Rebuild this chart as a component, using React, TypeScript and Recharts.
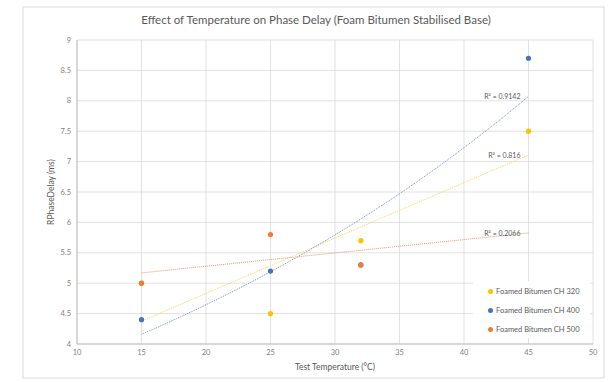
import React from 'react';
import {
  ComposedChart,
  Scatter,
  Line,
  XAxis,
  YAxis,
  CartesianGrid,
} from 'recharts';

// --- data ---
const temps = [15, 25, 32, 45];
const ch320 = [5.0, 4.5, 5.7, 7.5];
const ch400 = [4.4, 5.2, 5.3, 8.7];
const ch500: (number | null)[] = [5.0, 5.8, 5.3, null];

const seriesNames = ['Foamed Bitumen CH 320', 'Foamed Bitumen CH 400', 'Foamed Bitumen CH 500'];
const seriesColors = ['#FFC000', '#4472C4', '#ED7D31'];
const r2Labels = ['R² = 0.816', 'R² = 0.9142', 'R² = 0.2066'];

const xTicks = [10, 15, 20, 25, 30, 35, 40, 45, 50];
const yTicks = [4, 4.5, 5, 5.5, 6, 6.5, 7, 7.5, 8, 8.5, 9];
const trendRange = [15, 45];

const FONT = 'Lato, "Open Sans", sans-serif';
const TEXT = '#595959';
const TICK = '#7F7F7F';

type Pt = { x: number; y: number };

const toPoints = (ys: (number | null)[]): Pt[] =>
  temps
    .map((x, i) => ({ x, y: ys[i] }))
    .filter((p): p is Pt => typeof p.y === 'number');

// least squares, like Excel's trendline
const fitLinear = (pts: Pt[]) => {
  const n = pts.length;
  const mx = pts.reduce((s, p) => s + p.x, 0) / n;
  const my = pts.reduce((s, p) => s + p.y, 0) / n;
  let sxy = 0;
  let sxx = 0;
  pts.forEach((p) => {
    sxy += (p.x - mx) * (p.y - my);
    sxx += (p.x - mx) * (p.x - mx);
  });
  const b = sxy / sxx;
  return (x: number) => my + b * (x - mx);
};

const fitExp = (pts: Pt[]) => {
  const lin = fitLinear(pts.map((p) => ({ x: p.x, y: Math.log(p.y) })));
  return (x: number) => Math.exp(lin(x));
};

const trendLine = (f: (x: number) => number): Pt[] => {
  const out: Pt[] = [];
  for (let x = trendRange[0]; x <= trendRange[1]; x += 1) out.push({ x, y: f(x) });
  return out;
};

const pts320 = toPoints(ch320);
const pts400 = toPoints(ch400);
const pts500 = toPoints(ch500);

const trend320 = trendLine(fitLinear(pts320));
const trend400 = trendLine(fitExp(pts400));
const trend500 = trendLine(fitLinear(pts500));

const r2Label = (text: string, last: number) => (props: any) => {
  const { x, y, index } = props;
  if (index !== last) return <g key={`l-${index}`} />;
  return (
    <text
      key={`l-${index}`}
      x={x - 8}
      y={y}
      dy={3}
      textAnchor="end"
      fontSize={7}
      fontFamily={FONT}
      fill={TEXT}
    >
      {text}
    </text>
  );
};

const Dot = (color: string) => (props: any) => (
  <circle cx={props.cx} cy={props.cy} r={2.6} fill={color} />
);

// legend sits inside the plot, on a white box that hides the grid
const LegendBox = () => (
  <div
    style={{
      position: 'absolute',
      left: 473,
      top: 281,
      background: '#fff',
      width: 117,
      height: 57,
      fontFamily: FONT,
    }}
  >
    {seriesNames.map((name, i) => (
      <div
        key={name}
        style={{
          position: 'absolute',
          left: 15,
          top: 6 + i * 19,
          display: 'flex',
          alignItems: 'center',
          fontSize: 7.5,
          lineHeight: '9px',
          color: TEXT,
          whiteSpace: 'nowrap',
        }}
      >
        <span
          style={{
            display: 'inline-block',
            width: 5,
            height: 5,
            borderRadius: 3,
            background: seriesColors[i],
            marginRight: 3,
          }}
        />
        {name}
      </div>
    ))}
  </div>
);

const App: React.FC = () => {
  return (
    <div style={{ position: 'absolute', left: 0, top: 0, width: 612, height: 382, background: '#fff' }}>
      <svg
        width={612}
        height={382}
        style={{ position: 'absolute', left: 0, top: 0 }}
      >
        <rect x={23} y={7} width={581} height={371} fill="#fff" stroke="#D9D9D9" />
        <text x={316} y={24} textAnchor="middle" fontSize={11.5} fontFamily={FONT} fill={TEXT}>
          Effect of Temperature on Phase Delay (Foam Bitumen Stabilised Base)
        </text>
        <text x={335} y={370} textAnchor="middle" fontSize={8.5} fontFamily={FONT} fill={TEXT}>
          Test Temperature (°C)
        </text>
        <text
          x={52}
          y={192}
          transform="rotate(-90 52 192)"
          textAnchor="middle"
          dominantBaseline="middle"
          fontSize={8.5}
          fontFamily={FONT}
          fill={TEXT}
        >
          RPhaseDelay (ms)
        </text>
      </svg>
      <div style={{ position: 'absolute', left: 0, top: 0 }}>
        <ComposedChart
          width={612}
          height={382}
          margin={{ top: 40, right: 19, bottom: 18, left: 47 }}
        >
          <CartesianGrid stroke="#D9D9D9" strokeWidth={0.8} />
          <XAxis
            dataKey="x"
            type="number"
            domain={[10, 50]}
            ticks={xTicks}
            interval={0}
            height={20}
            stroke="#BFBFBF"
            tickLine={false}
            tickSize={4}
            tickMargin={2}
            tick={{ fontSize: 7.5, fill: TICK, fontFamily: FONT }}
            allowDuplicatedCategory={false}
          />
          <YAxis
            type="number"
            domain={[4, 9]}
            ticks={yTicks}
            interval={0}
            width={30}
            stroke="#BFBFBF"
            tickLine={false}
            tickSize={4}
            tickMargin={2}
            tick={{ fontSize: 7.5, fill: TICK, fontFamily: FONT }}
          />
          <Line
            data={trend320}
            dataKey="y"
            type="linear"
            stroke="#FFD24D"
            strokeWidth={1}
            strokeDasharray="1 1"
            dot={false}
            legendType="none"
            isAnimationActive={false}
            label={r2Label(r2Labels[0], trend320.length - 1)}
          />
          <Line
            data={trend400}
            dataKey="y"
            type="linear"
            stroke="#6F8FCC"
            strokeWidth={1}
            strokeDasharray="1 1"
            dot={false}
            legendType="none"
            isAnimationActive={false}
            label={r2Label(r2Labels[1], trend400.length - 1)}
          />
          <Line
            data={trend500}
            dataKey="y"
            type="linear"
            stroke="#E9966A"
            strokeWidth={1}
            strokeDasharray="1 1"
            dot={false}
            legendType="none"
            isAnimationActive={false}
            label={r2Label(r2Labels[2], trend500.length - 1)}
          />
          <Scatter
            name={seriesNames[0]}
            data={pts320}
            dataKey="y"
            fill={seriesColors[0]}
            shape={Dot(seriesColors[0])}
            isAnimationActive={false}
          />
          <Scatter
            name={seriesNames[1]}
            data={pts400}
            dataKey="y"
            fill={seriesColors[1]}
            shape={Dot(seriesColors[1])}
            isAnimationActive={false}
          />
          <Scatter
            name={seriesNames[2]}
            data={pts500}
            dataKey="y"
            fill={seriesColors[2]}
            shape={Dot(seriesColors[2])}
            isAnimationActive={false}
          />
        </ComposedChart>
      </div>
      <LegendBox />
    </div>
  );
};

export default App;
